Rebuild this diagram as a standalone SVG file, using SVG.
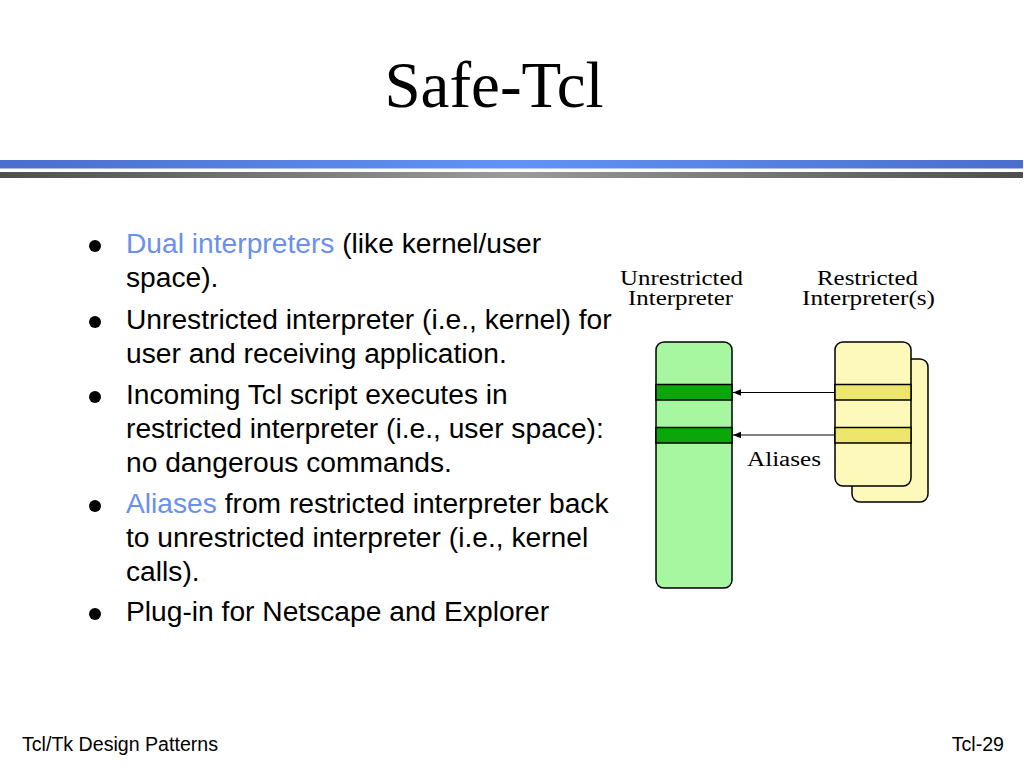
<svg xmlns="http://www.w3.org/2000/svg" width="1024" height="768" viewBox="0 0 1024 768">
<defs>
<linearGradient id="gBlue" x1="0" y1="0" x2="1" y2="0">
<stop offset="0" stop-color="#4a6ecb"/>
<stop offset="0.5" stop-color="#6193f6"/>
<stop offset="1" stop-color="#4a6ecb"/>
</linearGradient>
<linearGradient id="gGray" x1="0" y1="0" x2="1" y2="0">
<stop offset="0" stop-color="#4e4e4e"/>
<stop offset="0.5" stop-color="#9a9a9a"/>
<stop offset="1" stop-color="#4e4e4e"/>
</linearGradient>
<marker id="arr" viewBox="0 0 10 10" refX="10" refY="5" markerWidth="8" markerHeight="8" orient="auto" markerUnits="userSpaceOnUse">
<path d="M0,1 L10,5 L0,9 Z" fill="#000"/>
</marker>
</defs>
<style>
.body{font-family:"Liberation Sans",Arial,sans-serif;font-size:28.2px;fill:#000}
.hl{fill:#6a8fef}
.lbl{font-family:"Liberation Serif","Times New Roman",serif;font-size:20px;fill:#000}
.foot{font-family:"Liberation Sans",Arial,sans-serif;font-size:19.6px;fill:#000}
.box{stroke:#000;stroke-width:1.5}
.green{fill:#a6f7a0}
.dgreen{fill:#0aa60a}
.yel{fill:#fcf9bb}
.dyel{fill:#ece66c}
.conn{stroke:#000;stroke-width:1.2;fill:none}
</style>
<rect width="1024" height="768" fill="#fff"/>
<text x="494" y="107" text-anchor="middle" font-family="'Liberation Serif','Times New Roman',serif" font-size="65">Safe-Tcl</text>
<rect x="0" y="160" width="1023" height="8.5" fill="url(#gBlue)"/>
<rect x="0" y="172" width="1023" height="6" fill="url(#gGray)"/>

<g id="bullets">
<circle cx="95" cy="246" r="6"/>
<circle cx="95" cy="322" r="6"/>
<circle cx="95" cy="397" r="6"/>
<circle cx="95" cy="506" r="6"/>
<circle cx="95" cy="614" r="6"/>
<text class="body" x="126" y="253"><tspan class="hl">Dual interpreters</tspan> (like kernel/user</text>
<text class="body" x="126" y="287">space).</text>
<text class="body" x="126" y="329">Unrestricted interpreter (i.e., kernel) for</text>
<text class="body" x="126" y="363">user and receiving application.</text>
<text class="body" x="126" y="404">Incoming Tcl script executes in</text>
<text class="body" x="126" y="438">restricted interpreter (i.e., user space):</text>
<text class="body" x="126" y="472">no dangerous commands.</text>
<text class="body" x="126" y="513"><tspan class="hl">Aliases</tspan> from restricted interpreter back</text>
<text class="body" x="126" y="547">to unrestricted interpreter (i.e., kernel</text>
<text class="body" x="126" y="581">calls).</text>
<text class="body" x="126" y="621">Plug-in for Netscape and Explorer</text>
</g>

<g id="unrestricted">
<rect class="box green" x="656" y="342" width="76" height="246" rx="8"/>
<rect class="box dgreen" x="656" y="384.5" width="76" height="15.5"/>
<rect class="box dgreen" x="656" y="427.5" width="76" height="15.5"/>
<text class="lbl" x="620" y="285" textLength="123" lengthAdjust="spacingAndGlyphs">Unrestricted</text>
<text class="lbl" x="628" y="305" textLength="105" lengthAdjust="spacingAndGlyphs">Interpreter</text>
</g>

<g id="restricted">
<rect class="box yel" x="852" y="359" width="76" height="143" rx="8"/>
<rect class="box yel" x="835" y="342" width="76" height="144" rx="8"/>
<rect class="box dyel" x="835" y="384.5" width="76" height="15.5"/>
<rect class="box dyel" x="835" y="427.5" width="76" height="15.5"/>
<text class="lbl" x="817" y="285" textLength="101" lengthAdjust="spacingAndGlyphs">Restricted</text>
<text class="lbl" x="802" y="305" textLength="133" lengthAdjust="spacingAndGlyphs">Interpreter(s)</text>
</g>

<g id="connectors">
<line class="conn" x1="835" y1="392.5" x2="733" y2="392.5" marker-end="url(#arr)"/>
<line class="conn" x1="835" y1="435" x2="733" y2="435" marker-end="url(#arr)"/>
<text class="lbl" x="747" y="466" font-size="21" textLength="74" lengthAdjust="spacingAndGlyphs">Aliases</text>
</g>

<text class="foot" x="22" y="751">Tcl/Tk Design Patterns</text>
<text class="foot" x="1004" y="751" text-anchor="end">Tcl-29</text>
</svg>
